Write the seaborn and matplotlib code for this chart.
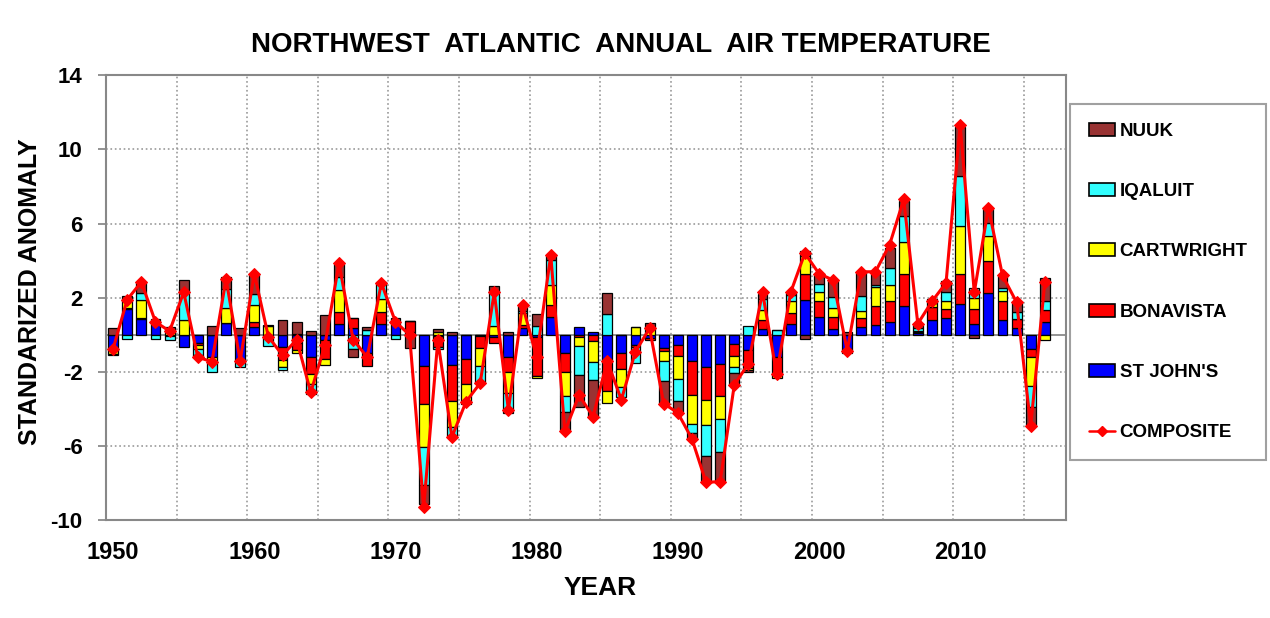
import numpy as np
import pandas as pd
import matplotlib
matplotlib.use('Agg')
import matplotlib.pyplot as plt
from matplotlib.patches import Patch
from matplotlib.lines import Line2D
import seaborn as sns

# anomalias estandarizadas por estacion, 1950-2016
years = list(range(1950, 2017))

st_johns = [-0.8, 1.4, 0.85, 0.65, -0.05, -0.65, -0.45, -1.2, 0.65, -1.45,
            0.4, 0.0, -0.65, -0.45, -1.2, -0.3, 0.6, 0.35, -1.0, 0.6,
            0.6, 0.15, -1.7, -0.05, -1.6, -1.3, -0.05, -0.1, -1.2, 0.35,
            -0.1, 0.95, -1.0, 0.45, 0.15, -1.35, -1.0, -0.55, -0.15, -0.7,
            -0.55, -1.4, -1.75, -1.55, -0.5, -0.8, 0.3, -1.2, 0.6, 1.9,
            0.95, 0.3, -0.75, 0.4, 0.55, 0.7, 1.55, 0.1, 0.8, 0.9,
            1.65, 0.6, 2.25, 0.8, 0.35, -0.75, 0.7]

bonavista = [-0.05, 0.05, 0.05, 0.0, 0.0, 0.0, -0.1, 0.0, 0.0, 0.0,
             0.3, 0.0, -0.7, -0.35, -0.9, -1.0, 0.65, 0.55, -0.7, 0.65,
             0.05, 0.6, -2.0, -0.6, -1.95, -1.35, -0.65, -0.35, -0.8, 0.2,
             -2.1, 0.65, -1.0, -0.1, -0.35, -1.7, -0.85, -0.1, -0.1, -0.15,
             -0.6, -1.85, -1.75, -1.75, -0.65, -1.0, 0.5, -0.9, 0.6, 1.4,
             0.85, 0.65, -0.1, 0.5, 1.0, 1.15, 1.75, 0.05, 0.7, 0.5,
             1.65, 0.8, 1.75, 1.05, 0.5, -0.45, 0.65]

cartwright = [-0.2, 0.45, 1.0, 0.0, 0.2, 0.8, -0.2, -0.2, 0.8, 0.0,
              0.9, 0.5, -0.4, -0.2, -0.55, -0.3, 1.15, 0.0, 0.0, 0.7,
              0.0, 0.0, -2.35, 0.15, -1.4, -0.9, -1.0, 0.5, -1.15, 0.65,
              -0.15, 1.1, -1.3, -0.5, -1.1, -0.6, -0.95, 0.4, 0.3, -0.55,
              -1.25, -1.55, -1.35, -1.25, -0.6, -0.1, 0.55, -0.2, 0.6, 0.95,
              0.5, 0.5, -0.05, 0.4, 1.05, 0.85, 1.7, 0.05, 0.2, 0.4,
              2.55, 0.6, 1.35, 0.5, 0.0, -1.55, -0.3]

iqaluit = [-0.05, -0.2, 0.35, -0.2, -0.25, 1.6, -0.35, -0.6, 1.0, -0.3,
           0.6, -0.6, -0.15, 0.05, -0.55, 0.0, 0.7, -0.75, 0.25, 0.8,
           -0.2, 0.0, -2.05, -0.1, -0.5, -0.15, -0.9, 1.8, -1.05, 0.1,
           0.5, 1.35, -0.85, -1.55, -1.0, 1.1, -0.55, -0.85, 0.05, -1.1,
           -1.15, -0.5, -1.65, -1.75, -0.3, 0.5, 0.6, 0.25, 0.35, 0.25,
           0.45, 0.6, -0.1, 0.8, 0.1, 0.9, 1.4, 0.15, 0.0, 0.5,
           2.7, 0.5, 0.7, 0.2, 0.4, -1.15, 0.5]

nuuk = [0.35, 0.2, 0.6, 0.2, 0.2, 0.55, -0.1, 0.47, 0.65, 0.35,
        1.1, 0.05, 0.8, 0.65, 0.2, 1.05, 0.7, -0.45, 0.2, 0.1,
        0.25, -0.7, -1.0, 0.15, 0.15, 0.0, 0.0, 0.35, 0.15, 0.3,
        0.65, 0.25, -0.95, -1.75, -2.0, 1.15, 0.0, 0.0, 0.3, -1.25,
        -0.6, -0.3, -1.4, -1.6, -0.65, -0.1, 0.25, 0.0, 0.1, -0.2,
        0.45, 0.9, 0.15, 1.3, 0.7, 1.1, 0.8, 0.2, 0.25, 0.6,
        2.65, -0.15, 0.75, 0.7, 0.5, -1.0, 1.2]

composite = [-0.75, 1.9, 2.85, 0.7, 0.2, 2.3, -1.2, -1.45, 3.0, -1.4,
             3.3, -0.1, -1.1, -0.25, -3.1, -0.55, 3.85, -0.25, -1.2, 2.8,
             0.7, 0.0, -9.3, -0.3, -5.5, -3.6, -2.6, 2.3, -4.05, 1.6,
             -1.2, 4.3, -5.2, -3.25, -4.4, -1.4, -3.5, -0.9, 0.35, -3.7,
             -4.2, -5.6, -7.95, -7.9, -2.7, -1.55, 2.3, -2.1, 2.3, 4.4,
             3.3, 2.95, -0.85, 3.4, 3.4, 4.85, 7.3, 0.6, 1.8, 2.8,
             11.3, 2.3, 6.85, 3.2, 1.75, -4.9, 2.85]

sns.set_style('white')
plt.rcParams['font.family'] = ['Liberation Sans', 'DejaVu Sans']
plt.rcParams['font.weight'] = 'bold'
plt.rcParams['text.color'] = 'black'
plt.rcParams['xtick.color'] = 'black'
plt.rcParams['ytick.color'] = 'black'
plt.rcParams['axes.unicode_minus'] = False

fig = plt.figure(figsize=(12.7, 6.18), dpi=100)
ax = fig.add_axes([0.0835, 0.1578, 0.7559, 0.7208])

# barras apiladas: positivos hacia arriba, negativos hacia abajo
series = [("ST JOHN'S", st_johns, '#0000FF'),
          ('BONAVISTA', bonavista, '#FF0000'),
          ('CARTWRIGHT', cartwright, '#FFFF00'),
          ('IQALUIT', iqaluit, '#33FFFF'),
          ('NUUK', nuuk, '#993333')]

pos = np.zeros(len(years))
neg = np.zeros(len(years))
for name, vals, col in series:
    v = np.array(vals)
    base = np.where(v >= 0, pos, neg)
    ax.bar(years, v, bottom=base, width=0.7, color=col, edgecolor='black',
           linewidth=0.9, zorder=3)
    pos += np.clip(v, 0, None)
    neg += np.clip(v, None, 0)

df = pd.DataFrame({'year': years, 'composite': composite})
sns.lineplot(data=df, x='year', y='composite', color='#FF0000', linewidth=2.2,
             marker='D', markersize=6.5, markeredgecolor='#FF0000', ax=ax, zorder=5)

ax.axhline(0, color='#808080', linewidth=1.2, zorder=2)

# ejes
ax.set_xlim(1949.5, 2017.5)
ax.set_ylim(-10, 14)
ax.set_yticks(range(-10, 15, 4))
ax.set_xticks(range(1950, 2011, 10))
ax.set_xticks(np.arange(1954.5, 2017, 5), minor=True)
ax.grid(which='minor', axis='x', linestyle=':', color='#999999', linewidth=1.2, zorder=0)
ax.grid(which='major', axis='y', linestyle=':', color='#999999', linewidth=1.2, zorder=0)
ax.grid(which='major', axis='x', visible=False)
ax.set_axisbelow(True)
ax.tick_params(axis='x', which='both', length=0, labelsize=17, pad=15, labelcolor='black')
ax.tick_params(axis='y', length=6, width=1.2, color='#808080', labelsize=16, pad=11,
               left=True, labelcolor='black')
for lab in ax.get_xticklabels() + ax.get_yticklabels():
    lab.set_fontweight('bold')
for s in ax.spines.values():
    s.set_color('#888888')
    s.set_linewidth(1.5)
ax.set_xlabel('')
ax.set_ylabel('')

# titulos
fig.text(0.489, 0.927, 'NORTHWEST  ATLANTIC  ANNUAL  AIR TEMPERATURE',
         ha='center', va='center', fontsize=20, fontweight='bold', color='black')
fig.text(30 / 1270, 1 - 292 / 618, 'STANDARIZED ANOMALY', rotation=90,
         ha='center', va='center', fontsize=18, fontweight='bold', color='black')
fig.text(600 / 1270, 1 - 588 / 618, 'YEAR', ha='center', va='center',
         fontsize=19, fontweight='bold', color='black')

# leyenda
handles = [Patch(facecolor=c, edgecolor='black', linewidth=1.2, label=n)
           for n, _, c in series[::-1]]
handles.append(Line2D([0], [0], color='#FF0000', linewidth=1.8, marker='D',
                      markersize=5, label='COMPOSITE'))
leg = fig.legend(handles=handles, loc='upper left',
                 bbox_to_anchor=(1070 / 1270, 1 - 104 / 618), borderaxespad=0,
                 frameon=True, fancybox=False, edgecolor='#888888',
                 prop={'size': 13.5, 'weight': 'bold'}, labelspacing=2.3,
                 borderpad=1.0, handlelength=1.4, handletextpad=0.25)
leg.get_frame().set_linewidth(1.5)
for t in leg.get_texts():
    t.set_color('black')

fig.savefig('out.png', dpi=100)
